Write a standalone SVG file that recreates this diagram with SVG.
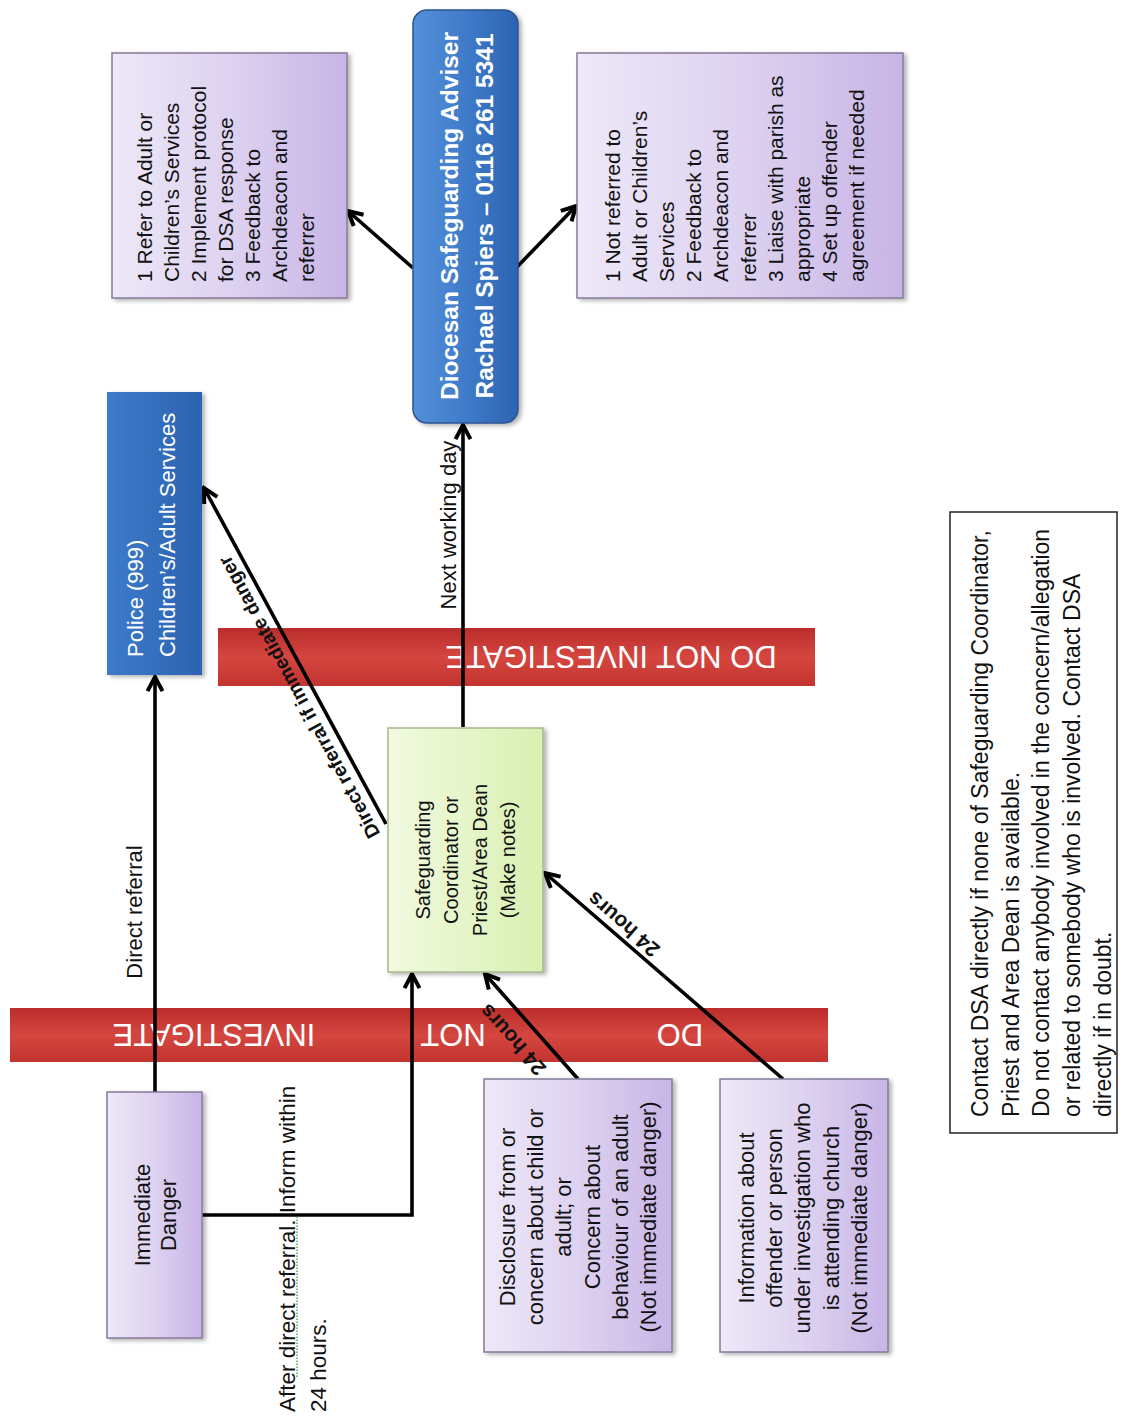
<svg xmlns="http://www.w3.org/2000/svg" width="1122" height="1418" viewBox="0 0 1122 1418">
<defs>
<style>
text{font-family:"Liberation Sans",Arial,sans-serif;fill:#111}
.w{fill:#fff}
.box{stroke:#857a99;stroke-width:1.5;filter:url(#sh)}
.conn{fill:none;stroke:#000;stroke-width:3.6;marker-end:url(#ah)}
.band{fill:url(#red)}
</style>
<linearGradient id="pur" x1="0" y1="0" x2="1" y2="0"><stop offset="0" stop-color="#eee8f8"/><stop offset="0.5" stop-color="#ddd2f0"/><stop offset="1" stop-color="#c7b5e6"/></linearGradient>
<linearGradient id="blu" x1="0" y1="0" x2="1" y2="0"><stop offset="0" stop-color="#3d7bcb"/><stop offset="1" stop-color="#2c63b1"/></linearGradient>
<linearGradient id="dsa" x1="0" y1="0" x2="1" y2="0"><stop offset="0" stop-color="#5590da"/><stop offset="0.5" stop-color="#3f7bc9"/><stop offset="1" stop-color="#2d64b2"/></linearGradient>
<linearGradient id="grn" x1="0" y1="0" x2="1" y2="0"><stop offset="0" stop-color="#f1fadf"/><stop offset="1" stop-color="#d9f0b2"/></linearGradient>
<linearGradient id="red" x1="0" y1="0" x2="0" y2="1"><stop offset="0" stop-color="#bb2d2c"/><stop offset="0.5" stop-color="#d4463f"/><stop offset="1" stop-color="#c33430"/></linearGradient>
<filter id="sh" x="-10%" y="-10%" width="130%" height="130%"><feDropShadow dx="3" dy="2" stdDeviation="2" flood-color="#000" flood-opacity="0.3"/></filter>
<marker id="ah" viewBox="0 0 12 12" refX="10.5" refY="6" markerWidth="20" markerHeight="20" markerUnits="userSpaceOnUse" orient="auto"><path d="M2,1.5 L10.5,6 L2,10.5" fill="none" stroke="#000" stroke-width="2.4"/></marker>
</defs>
<rect width="1122" height="1418" fill="#fff"/>

<g id="bands">
<rect class="band" x="218" y="628" width="597" height="58"/>
<text class="w" font-size="31" text-anchor="middle" transform="rotate(180 611 646)" x="611" y="646">DO NOT INVESTIGATE</text>
<rect class="band" x="10" y="1008" width="818" height="54"/>
<text class="w" font-size="31" text-anchor="middle" transform="rotate(180 680 1024)" x="680" y="1024">DO</text>
<text class="w" font-size="31" text-anchor="middle" transform="rotate(180 453 1024)" x="453" y="1024">NOT</text>
<text class="w" font-size="31" text-anchor="middle" transform="rotate(180 214 1024)" x="214" y="1024">INVESTIGATE</text>
</g>

<g id="connectors">
<path class="conn" d="M155,1092 L155,677"/>
<path class="conn" d="M202,1215 L412,1215 L412,974"/>
<path class="conn" d="M578,1079 L485,974"/>
<path class="conn" d="M783,1079 L545,873"/>
<path class="conn" d="M463,727 L463,425"/>
<path class="conn" d="M386,824 L204,488"/>
<path class="conn" d="M413,268 L348,211"/>
<path class="conn" d="M516,268 L576,206"/>
<text font-size="22" text-anchor="middle" transform="translate(142,912) rotate(-90)">Direct referral</text>
<text font-size="22" text-anchor="middle" transform="translate(456,525) rotate(-90)">Next working day</text>
<text font-size="19.5" font-weight="bold" text-anchor="middle" transform="translate(305,694) rotate(-118.4)">Direct referral if immediate danger</text>
<text font-size="21" font-weight="bold" text-anchor="middle" transform="translate(518,1035) rotate(-132)">24 hours</text>
<text font-size="21" font-weight="bold" text-anchor="middle" transform="translate(628,919) rotate(-139.4)">24 hours</text>
<text font-size="22.5" transform="translate(295,1412) rotate(-90)"><tspan x="0" dy="0">After direct referral. Inform within</tspan><tspan x="0" dy="31">24 hours.</tspan></text>
<line x1="297" y1="1377" x2="297" y2="1216" stroke="#3e9a3e" stroke-width="1.3" stroke-dasharray="1.5 1.5"/>
</g>

<g id="outcome-referred">
<rect class="box" x="112" y="53" width="235" height="245" fill="url(#pur)"/>
<text font-size="21" transform="translate(152,282) rotate(-90)"><tspan x="0" dy="0">1 Refer to Adult or</tspan><tspan x="0" dy="27">Children’s Services</tspan><tspan x="0" dy="27">2 Implement protocol</tspan><tspan x="0" dy="27">for DSA response</tspan><tspan x="0" dy="27">3 Feedback to</tspan><tspan x="0" dy="27">Archdeacon and</tspan><tspan x="0" dy="27">referrer</tspan></text>
</g>

<g id="dsa">
<rect x="413" y="10" width="105" height="413" rx="14" fill="url(#dsa)" stroke="#2a5590" stroke-width="1.5" filter="url(#sh)"/>
<text class="w" font-size="24.5" font-weight="bold" text-anchor="middle" transform="translate(458,216) rotate(-90)"><tspan x="0" dy="0">Diocesan Safeguarding Adviser</tspan><tspan x="0" dy="35">Rachael Spiers – 0116 261 5341</tspan></text>
</g>

<g id="outcome-not-referred">
<rect class="box" x="577" y="53" width="326" height="245" fill="url(#pur)"/>
<text font-size="21" transform="translate(620,282) rotate(-90)"><tspan x="0" dy="0">1 Not referred to</tspan><tspan x="0" dy="27.1">Adult or Children’s</tspan><tspan x="0" dy="27.1">Services</tspan><tspan x="0" dy="27.1">2 Feedback to</tspan><tspan x="0" dy="27.1">Archdeacon and</tspan><tspan x="0" dy="27.1">referrer</tspan><tspan x="0" dy="27.1">3 Liaise with parish as</tspan><tspan x="0" dy="27.1">appropriate</tspan><tspan x="0" dy="27.1">4 Set up offender</tspan><tspan x="0" dy="27.1">agreement if needed</tspan></text>
</g>

<g id="police">
<rect x="107" y="392" width="95" height="283" fill="url(#blu)" filter="url(#sh)"/>
<text class="w" font-size="22" transform="translate(143,657) rotate(-90)"><tspan x="0" dy="0">Police (999)</tspan><tspan x="0" dy="32">Children’s/Adult Services</tspan></text>
</g>

<g id="coordinator">
<rect x="388" y="728" width="155" height="244" fill="url(#grn)" stroke="#a7b98f" stroke-width="1.5" filter="url(#sh)"/>
<text font-size="20" text-anchor="middle" transform="translate(430,860) rotate(-90)"><tspan x="0" dy="0">Safeguarding</tspan><tspan x="0" dy="28.3">Coordinator or</tspan><tspan x="0" dy="28.3">Priest/Area Dean</tspan><tspan x="0" dy="28.3">(Make notes)</tspan></text>
</g>

<g id="immediate-danger">
<rect class="box" x="107" y="1092" width="95" height="246" fill="url(#pur)"/>
<text font-size="22" text-anchor="middle" transform="translate(150,1215) rotate(-90)"><tspan x="0" dy="0">Immediate</tspan><tspan x="0" dy="26">Danger</tspan></text>
</g>

<g id="disclosure">
<rect class="box" x="484" y="1079" width="188" height="273" fill="url(#pur)"/>
<text font-size="22" text-anchor="middle" transform="translate(515,1217) rotate(-90)"><tspan x="0" dy="0">Disclosure from or</tspan><tspan x="0" dy="28.2">concern about child or</tspan><tspan x="0" dy="28.2">adult; or</tspan><tspan x="0" dy="28.2">Concern about</tspan><tspan x="0" dy="28.2">behaviour of an adult</tspan><tspan x="0" dy="28.2">(Not immediate danger)</tspan></text>
</g>

<g id="information">
<rect class="box" x="720" y="1079" width="168" height="273" fill="url(#pur)"/>
<text font-size="22" text-anchor="middle" transform="translate(754,1218) rotate(-90)"><tspan x="0" dy="0">Information about</tspan><tspan x="0" dy="28.2">offender or person</tspan><tspan x="0" dy="28.2">under investigation who</tspan><tspan x="0" dy="28.2">is attending church</tspan><tspan x="0" dy="28.2">(Not immediate danger)</tspan></text>
</g>

<g id="note">
<rect x="950" y="512" width="167" height="621" fill="#fff" stroke="#222" stroke-width="1.5"/>
<text font-size="23" transform="translate(988,1117) rotate(-90)"><tspan x="0" dy="0">Contact DSA  directly if none of Safeguarding Coordinator,</tspan><tspan x="0" dy="30.7">Priest and Area Dean is available.</tspan><tspan x="0" dy="30.7">Do not contact anybody involved in the concern/allegation</tspan><tspan x="0" dy="30.7">or related to somebody who is involved.  Contact DSA</tspan><tspan x="0" dy="30.7">directly if in doubt.</tspan></text>
</g>
</svg>
